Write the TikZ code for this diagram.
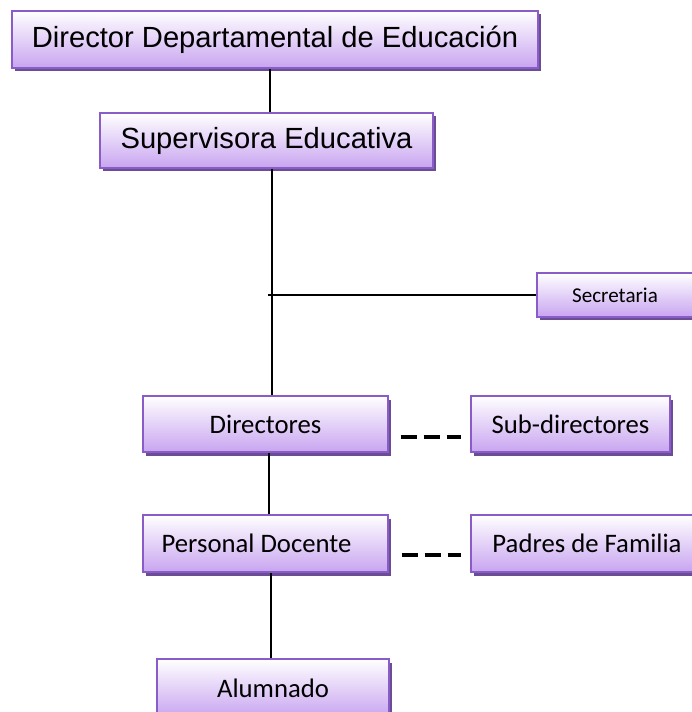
\documentclass[tikz,border=0pt]{standalone}
\usepackage{fontspec}
\setmainfont{Carlito}
\newfontfamily\arialfont{Liberation Sans}
\usetikzlibrary{shadows}

\definecolor{boxline}{HTML}{8A5CC8}
\definecolor{boxfill}{HTML}{C8A4F0}
\definecolor{boxshade}{HTML}{5B3A8A}

\begin{document}
\begin{tikzpicture}[
  cargo/.style={rectangle,draw=boxline,line width=0.8pt,top color=white,bottom color=boxfill,
    drop shadow={shadow xshift=0.06cm,shadow yshift=-0.07cm,fill=boxshade,opacity=0.9},
    align=center,inner sep=0pt},
  titulo/.style={font=\arialfont\fontsize{16.6}{18}\selectfont},
  texto/.style={font=\fontsize{15.2}{17}\selectfont},
  enlace/.style={draw=black,line width=0.8pt},
  apoyo/.style={draw=black,line width=1.8pt,dash pattern=on 0.32cm off 0.14cm}]
\useasboundingbox (0,0) rectangle (13.82,-14.24);
\node[cargo,titulo,minimum width=10.52cm,minimum height=1.14cm] (dir) at (5.5,-0.79) {Director Departamental de Educaci\'on};
\node[cargo,titulo,minimum width=6.66cm,minimum height=1.1cm] (sup) at (5.33,-2.81) {Supervisora Educativa};
\node[cargo,minimum width=3.12cm,minimum height=0.88cm,font=\fontsize{12}{14}\selectfont] (sec) at (12.3,-5.9) {Secretaria};
\node[cargo,texto,minimum width=4.9cm,minimum height=1.12cm] (dirs) at (5.31,-8.48) {Directores};
\node[cargo,texto,minimum width=3.98cm,minimum height=1.12cm] (sub) at (11.41,-8.48) {Sub-directores};
\node[cargo,texto,minimum width=4.9cm,minimum height=1.14cm] (pd) at (5.31,-10.87) {Personal Docente\hspace*{0.36cm}};
\node[cargo,texto,minimum width=4.64cm,minimum height=1.14cm] (pf) at (11.74,-10.87) {Padres de Familia};
\node[cargo,texto,minimum width=4.64cm,minimum height=1.16cm] (alu) at (5.46,-13.76) {Alumnado};

\coordinate (ramal) at ([xshift=0.03cm]sup.south |- sec.west);
\path [enlace] ([xshift=0.07cm]sup.north) -- ([xshift=0.07cm]sup.north |- dir.south);
\path [enlace] ([xshift=0.11cm]sup.south) -- ([xshift=0.11cm]sup.south |- dirs.north);
\path [enlace] (ramal) -- (sec.west);
\path [enlace] ([xshift=0.07cm]dirs.south) -- ([xshift=0.07cm]dirs.south |- pd.north);
\path [enlace] ([xshift=-0.04cm]alu.north) -- ([xshift=-0.04cm]alu.north |- pd.south);
\path [apoyo] ([xshift=0.24cm,yshift=-0.26cm]dirs.east) -- ([xshift=-0.18cm,yshift=-0.26cm]sub.west);
\path [apoyo] ([xshift=0.26cm,yshift=-0.23cm]pd.east) -- ([xshift=-0.18cm,yshift=-0.23cm]pf.west);
\end{tikzpicture}
\end{document}
